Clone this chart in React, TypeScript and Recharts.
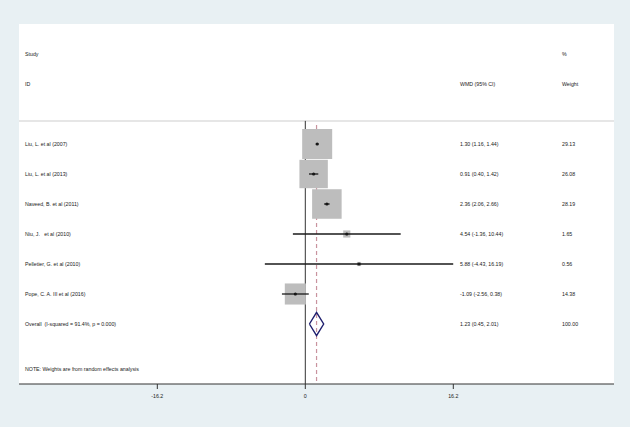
import { CartesianGrid, ErrorBar, ReferenceLine, Scatter, ScatterChart, XAxis, YAxis } from "recharts"

const studies = [
    "Liu, L. et al (2007)",
    "Liu, L. et al (2013)",
    "Naveed, B. et al (2011)",
    "Niu, J.   et al (2010)",
    "Pelletier, G. et al (2010)",
    "Pope, C. A. III et al (2016)",
]
const estimates = [1.30, 0.91, 2.36, 4.54, 5.88, -1.09]
const lower = [1.16, 0.40, 2.06, -1.36, -4.43, -2.56]
const upper = [1.44, 1.42, 2.66, 10.44, 16.19, 0.38]
const weights = [29.13, 26.08, 28.19, 1.65, 0.56, 14.38]

const overallLabel = "Overall  (I-squared = 91.4%, p = 0.000)"
const overallEst = 1.23
const overallLow = 0.45
const overallHigh = 2.01
const overallWeight = 100.0

const noteText = "NOTE: Weights are from random effects analysis"
const xTicks = [-16.2, 0, 16.2]

const FONT = "'Liberation Sans', Arial, sans-serif"
const FONT_SIZE = 5.25
const TEXT = "#1a1a1a"
const COL_STUDY = 25
const COL_WMD = 460
const COL_WEIGHT = 562
const OVERALL_ROW = studies.length
const HEADER_LINE = -0.77

const fmt = (e: number, l: number, h: number) => `${e.toFixed(2)} (${l.toFixed(2)}, ${h.toFixed(2)})`

const textRows = [
    { pos: -3, left: "Study", mid: "", right: "%" },
    { pos: -2, left: "ID", mid: "WMD (95% CI)", right: "Weight" },
    ...studies.map((s, i) => ({ pos: i, left: s, mid: fmt(estimates[i], lower[i], upper[i]), right: weights[i].toFixed(2) })),
    { pos: OVERALL_ROW, left: overallLabel, mid: fmt(overallEst, overallLow, overallHigh), right: overallWeight.toFixed(2) },
    { pos: OVERALL_ROW + 1.5, left: noteText, mid: "", right: "" },
]

const studyData = studies.map((s, i) => ({
    name: s,
    x: estimates[i],
    y: i,
    w: weights[i],
    err: [estimates[i] - lower[i], upper[i] - estimates[i]],
}))

const diamondHalf = 0.39
const diamondData = [
    { x: overallLow, y: OVERALL_ROW },
    { x: overallEst, y: OVERALL_ROW - diamondHalf },
    { x: overallHigh, y: OVERALL_ROW },
    { x: overallEst, y: OVERALL_ROW + diamondHalf },
    { x: overallLow, y: OVERALL_ROW },
]

function RowTick(props: any) {
    const { y, payload } = props
    const row = textRows.find((r) => r.pos === payload.value)
    if (!row) return null
    const style = { whiteSpace: "pre" as const }
    return (
        <g fontFamily={FONT} fontSize={FONT_SIZE} fill={TEXT}>
            <text x={COL_STUDY} y={y} dy="0.35em" style={style}>{row.left}</text>
            <text x={COL_WMD} y={y} dy="0.35em" style={style}>{row.mid}</text>
            <text x={COL_WEIGHT} y={y} dy="0.35em" style={style}>{row.right}</text>
        </g>
    )
}

const BoxShape = (props: any) => {
    const { cx, cy, payload } = props
    const s = Math.sqrt(payload.w) * 5.56
    return <rect x={cx - s / 2} y={cy - s / 2} width={s} height={s} fill="#bdbdbd" />
}

const DotShape = (props: any) => <circle cx={props.cx} cy={props.cy} r={1.6} fill="#111" />

export default function App() {
    return (
        <div style={{ position: "absolute", left: 0, top: 0, width: 630, height: 427, background: "#e8f0f3" }}>
            <ScatterChart width={630} height={427} margin={{ top: 24, right: 16, left: 19, bottom: 13 }}>
                <CartesianGrid fill="#ffffff" horizontal={false} vertical={false} />
                <XAxis
                    type="number"
                    dataKey="x"
                    domain={[-31.34, 33.79]}
                    allowDataOverflow
                    ticks={xTicks}
                    interval={0}
                    height={30}
                    stroke="#333333"
                    tickSize={5}
                    tickMargin={5}
                    tick={{ fontSize: FONT_SIZE, fill: TEXT, fontFamily: FONT }}
                />
                <YAxis
                    type="number"
                    dataKey="y"
                    domain={[-4, 8]}
                    allowDataOverflow
                    reversed
                    ticks={textRows.map((r) => r.pos)}
                    interval={0}
                    width={1}
                    mirror
                    axisLine={false}
                    tickLine={false}
                    tick={<RowTick />}
                />
                <ReferenceLine y={HEADER_LINE} stroke="#dedede" strokeWidth={1.5} />
                <ReferenceLine segment={[{ x: 0, y: HEADER_LINE }, { x: 0, y: 8 }]} stroke="#333333" />
                <ReferenceLine
                    segment={[{ x: overallEst, y: -0.63 }, { x: overallEst, y: 8 }]}
                    stroke="#c9939e"
                    strokeWidth={1.2}
                    strokeDasharray="4 3"
                />
                <Scatter data={studyData} shape={BoxShape} isAnimationActive={false} />
                <Scatter data={studyData} shape={DotShape} isAnimationActive={false}>
                    <ErrorBar
                        dataKey="err"
                        direction="x"
                        width={0}
                        stroke="#1a1a1a"
                        strokeWidth={1.3}
                        zIndex={700}
                        isAnimationActive={false}
                    />
                </Scatter>
                <Scatter
                    data={diamondData}
                    shape={() => <g />}
                    line={{ stroke: "#1f1f6e", strokeWidth: 1.4 }}
                    lineType="joint"
                    isAnimationActive={false}
                />
            </ScatterChart>
        </div>
    )
}
